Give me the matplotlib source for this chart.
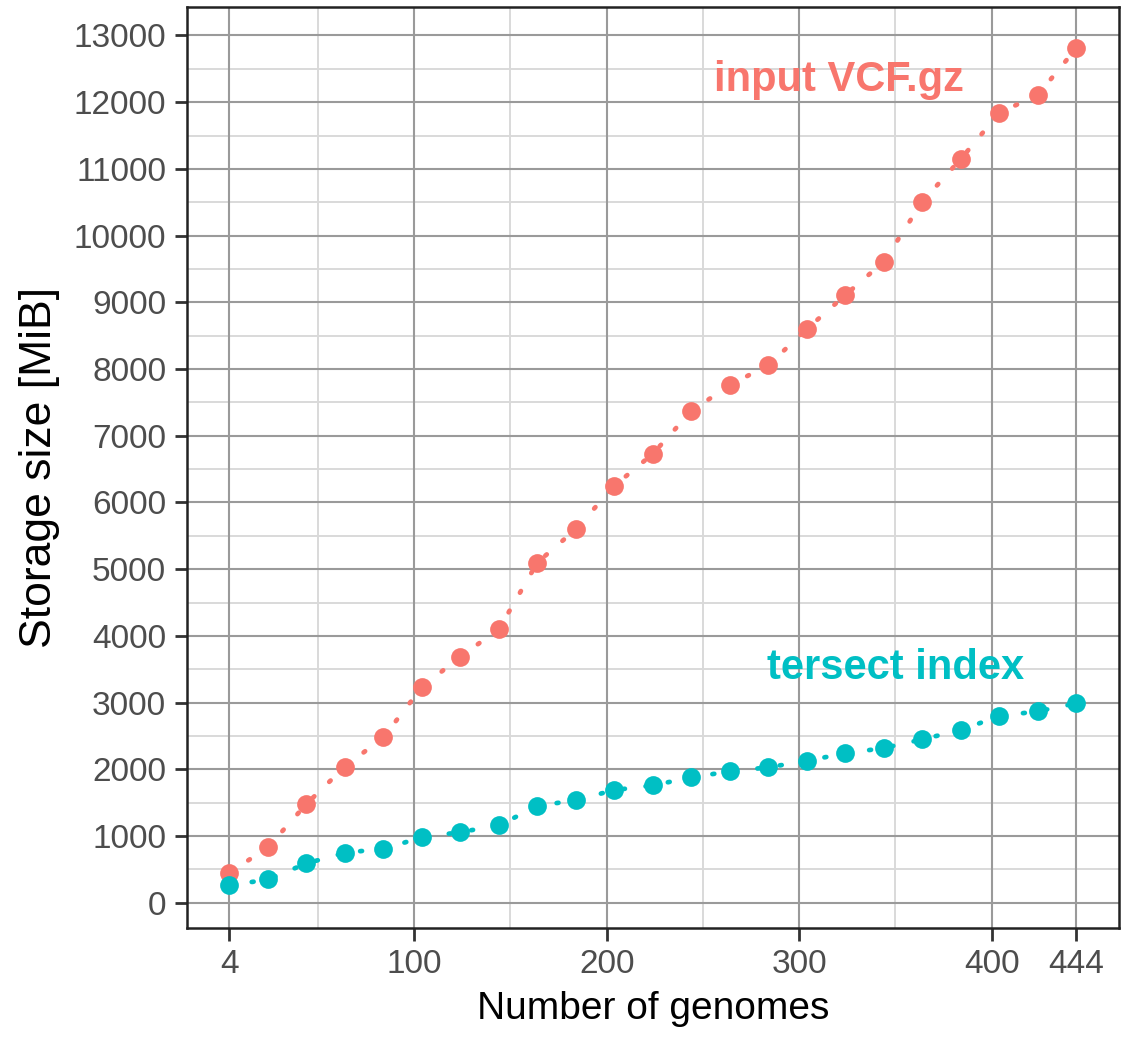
import numpy as np
import matplotlib
matplotlib.use("Agg")
import matplotlib.pyplot as plt

plt.rcParams["font.family"] = ["Liberation Sans", "DejaVu Sans"]

# Veri: genom sayisi ve depolama boyutu (MiB)
genomes = [4, 24, 44, 64, 84, 104, 124, 144, 164, 184, 204, 224,
           244, 264, 284, 304, 324, 344, 364, 384, 404, 424, 444]
vcf_size = [450, 830, 1480, 2040, 2480, 3230, 3690, 4100, 5100, 5600, 6250, 6730,
            7370, 7760, 8060, 8600, 9110, 9610, 10510, 11150, 11840, 12110, 12810]
tersect_size = [260, 350, 590, 750, 810, 980, 1060, 1160, 1450, 1540, 1690, 1760,
                1880, 1970, 2030, 2130, 2240, 2320, 2450, 2590, 2800, 2870, 2990]

x_ticks = [4, 100, 200, 300, 400, 444]
x_minor = [50, 150, 250, 350]
y_ticks = list(range(0, 13001, 1000))
y_minor = list(range(500, 13001, 1000))

RED = "#F8766D"
TEAL = "#00BFC4"

fig = plt.figure(figsize=(11.21, 10.38), dpi=100)
ax = fig.add_axes([0.1668, 0.106, 0.8312, 0.8873])

for xm in x_minor:
    ax.axvline(xm, color="#d9d9d9", lw=1.4, zorder=0)
for ym in y_minor:
    ax.axhline(ym, color="#d9d9d9", lw=1.4, zorder=0)
for xt in x_ticks:
    ax.axvline(xt, color="#9a9a9a", lw=1.5, zorder=0)
for yt in y_ticks:
    ax.axhline(yt, color="#9a9a9a", lw=1.5, zorder=0)

for ys, col in [(vcf_size, RED), (tersect_size, TEAL)]:
    ax.plot(genomes, ys, color=col, lw=3.4, ls=(0, (0.4, 4.4)),
            dash_capstyle="round", zorder=2)
    ax.plot(genomes, ys, "o", color=col, ms=13.5, mew=0, zorder=3)

ax.text(320.7, 12330, "input VCF.gz", color=RED, fontsize=30,
        fontweight="bold", ha="center", va="center")
ax.text(350, 3520, "tersect index", color=TEAL, fontsize=30,
        fontweight="bold", ha="center", va="center")

ax.set_xlim(-18, 466)
ax.set_ylim(-377, 13427)
ax.set_xticks(x_ticks)
ax.set_yticks(y_ticks)
ax.tick_params(axis="both", length=9, width=2, color="#333333",
               labelsize=24, labelcolor="#4d4d4d", pad=6)
for sp in ax.spines.values():
    sp.set_linewidth(1.8)
    sp.set_color("#222222")

ax.set_xlabel("Number of genomes", fontsize=28, color="black", labelpad=8)
ax.set_ylabel("Storage size [MiB]", fontsize=32, color="black", labelpad=10)

fig.savefig("out.png", dpi=100)
plt.close(fig)
